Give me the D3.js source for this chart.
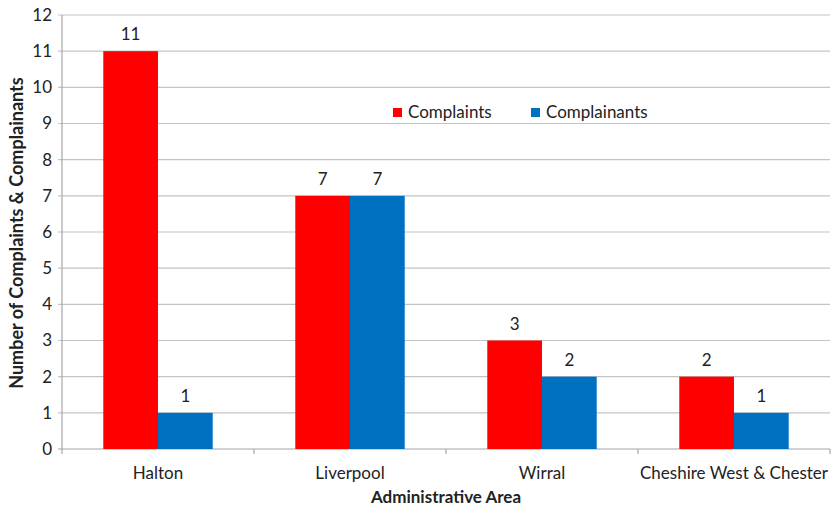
<!DOCTYPE html>
<html>
<head>
<meta charset="utf-8">
<script src="https://cdn.jsdelivr.net/npm/d3@7"></script>
<style>
  html, body { margin: 0; padding: 0; background: #fff; }
  svg text { font-family: Lato, "Open Sans", sans-serif; fill: #222; }
</style>
</head>
<body>
<svg id="chart" width="832" height="512"></svg>
<script>
// Complaints and complainants by administrative area
const areas = ["Halton", "Liverpool", "Wirral", "Cheshire West & Chester"];
const complaints = [11, 7, 3, 2];
const complainants = [1, 7, 2, 1];
const seriesNames = ["Complaints", "Complainants"];
const seriesColors = ["#ff0000", "#0070c0"];
const yTicks = [0, 1, 2, 3, 4, 5, 6, 7, 8, 9, 10, 11, 12];

const series = [complaints, complainants];

const svg = d3.select("#chart");
const margin = { left: 62, right: 830, top: 15, bottom: 449 };

const x = d3.scaleBand().domain(areas).range([margin.left, margin.right]).paddingInner(0).paddingOuter(0);
const y = d3.scaleLinear().domain([0, 12]).range([margin.bottom, margin.top]);

// bars take 109/192 of each band, split equally between the two series
const groupFrac = 0.57;
const xs = d3.scaleBand().domain(seriesNames)
  .range([0, x.bandwidth() * groupFrac]).padding(0);
const groupOffset = x.bandwidth() * (1 - groupFrac) / 2;

const fontSize = "17px";

// gridlines
svg.append("g")
  .selectAll("line")
  .data(yTicks)
  .join("line")
  .attr("x1", margin.left - 4)
  .attr("x2", margin.right)
  .attr("y1", d => y(d))
  .attr("y2", d => y(d))
  .attr("stroke", d => d === 0 ? "#a6a6a6" : "#c4c4c4")
  .attr("stroke-width", 1.2);

// y axis line
svg.append("line")
  .attr("x1", margin.left).attr("x2", margin.left)
  .attr("y1", margin.top).attr("y2", margin.bottom)
  .attr("stroke", "#a6a6a6").attr("stroke-width", 1.2);

// y tick labels
svg.append("g")
  .selectAll("text")
  .data(yTicks)
  .join("text")
  .attr("x", margin.left - 10)
  .attr("y", d => y(d))
  .attr("dy", "0.35em")
  .attr("text-anchor", "end")
  .style("font-size", fontSize)
  .text(d => d);

// x category tick marks at band boundaries
const boundaries = areas.map(a => x(a)).concat([margin.right]);
svg.append("g")
  .selectAll("line")
  .data(boundaries)
  .join("line")
  .attr("x1", d => d).attr("x2", d => d)
  .attr("y1", margin.bottom).attr("y2", margin.bottom + 5)
  .attr("stroke", "#a6a6a6").attr("stroke-width", 1.2);

// bars
const groups = svg.append("g")
  .selectAll("g")
  .data(areas)
  .join("g")
  .attr("transform", d => `translate(${x(d) + groupOffset},0)`);

series.forEach((vals, si) => {
  groups.append("rect")
    .attr("x", xs(seriesNames[si]))
    .attr("y", (d, i) => y(vals[i]))
    .attr("width", xs.bandwidth())
    .attr("height", (d, i) => y(0) - y(vals[i]))
    .attr("fill", seriesColors[si]);

  groups.append("text")
    .attr("x", xs(seriesNames[si]) + xs.bandwidth() / 2)
    .attr("y", (d, i) => y(vals[i]) - 11)
    .attr("text-anchor", "middle")
    .style("font-size", fontSize)
    .text((d, i) => vals[i]);
});

// category labels
svg.append("g")
  .selectAll("text")
  .data(areas)
  .join("text")
  .attr("x", d => x(d) + x.bandwidth() / 2)
  .attr("y", 479)
  .attr("text-anchor", "middle")
  .style("font-size", fontSize)
  .text(d => d);

// axis titles
svg.append("text")
  .attr("x", 446).attr("y", 503)
  .attr("text-anchor", "middle")
  .style("font-size", "17px").style("font-weight", "bold")
  .text("Administrative Area");

svg.append("text")
  .attr("transform", "translate(23,233) rotate(-90)")
  .attr("text-anchor", "middle")
  .style("font-size", "18px").style("font-weight", "bold")
  .text("Number of Complaints & Complainants");

// legend
const legendX = [393, 531];
const legend = svg.append("g")
  .selectAll("g")
  .data(seriesNames)
  .join("g")
  .attr("transform", (d, i) => `translate(${legendX[i]},108)`);
legend.append("rect")
  .attr("width", 9).attr("height", 9)
  .attr("fill", (d, i) => seriesColors[i]);
legend.append("text")
  .attr("x", 15).attr("y", 4.5).attr("dy", "0.35em")
  .style("font-size", fontSize)
  .text(d => d);
</script>
</body>
</html>
